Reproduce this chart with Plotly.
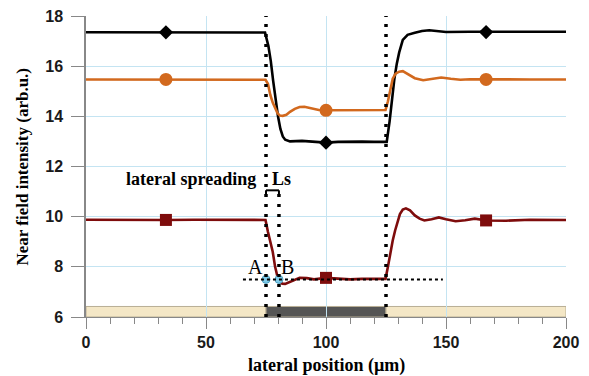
import plotly.graph_objects as go

# =========================================================
# Data
# =========================================================

# black curve (diamonds)
black_x = [0, 10, 20, 33.3, 45, 55, 65, 72, 74.6, 76, 77, 78, 79, 80, 81, 82, 83, 85,
           90, 95, 100, 105, 110, 115, 120, 125.3, 126.5, 127.5, 128.5, 129.5, 130.5,
           132, 134, 137, 140, 143, 146, 150, 160, 166.7, 180, 190, 200]
black_y = [17.35, 17.35, 17.34, 17.35, 17.35, 17.34, 17.35, 17.35, 17.34, 16.8, 16.2,
           15.4, 14.65, 14.0, 13.5, 13.2, 13.07, 13.0,
           13.02, 12.98, 12.95, 12.98, 13.0, 12.99, 12.98, 12.98, 13.8, 14.7, 15.5, 16.1,
           16.55, 17.05, 17.25, 17.33, 17.4, 17.43, 17.4, 17.36, 17.37, 17.36, 17.37,
           17.37, 17.37]

# orange curve (circles)
orange_x = [0, 10, 20, 33.3, 45, 55, 65, 72, 74.8, 75.8, 76.8, 77.8, 78.8, 79.8, 80.8,
            82, 83.5, 85, 87, 89, 91, 94, 97, 100, 105, 110, 115, 120, 124.8, 125.8,
            126.8, 127.8, 129, 130.5, 132, 134, 137, 140.5, 144, 148, 152, 156, 160,
            166.7, 175, 185, 200]
orange_y = [15.47, 15.47, 15.46, 15.47, 15.47, 15.46, 15.47, 15.47, 15.46, 15.3, 14.85,
            14.55, 14.3, 14.12, 14.03, 14.02, 14.06, 14.18, 14.3, 14.37, 14.38, 14.3,
            14.25, 14.24, 14.24, 14.25, 14.25, 14.26, 14.25, 14.6, 15.05, 15.5, 15.7,
            15.78, 15.8, 15.68, 15.52, 15.44, 15.48, 15.55, 15.5, 15.46, 15.48, 15.47,
            15.48, 15.47, 15.47]

# dark red curve (squares)
red_x = [0, 10, 20, 33.3, 45, 55, 65, 72, 74.8, 75.8, 76.8, 77.8, 78.8, 79.8, 80.8, 81.8,
         83, 85, 87, 89, 92, 95, 100, 105, 110, 115, 120, 124.8, 125.8, 126.8, 127.8,
         128.8, 129.8, 130.8, 132, 133.3, 135, 137, 139, 141, 144, 147, 150, 154, 158,
         162, 166.7, 175, 185, 200]
red_y = [9.88, 9.87, 9.86, 9.87, 9.88, 9.87, 9.88, 9.88, 9.87, 9.4, 8.95, 8.6, 8.0, 7.6,
         7.42, 7.33, 7.32, 7.4, 7.5, 7.56, 7.55, 7.5, 7.56, 7.53, 7.5, 7.52, 7.51, 7.52,
         8.0, 8.55, 9.05, 9.45, 9.8, 10.1, 10.28, 10.33, 10.25, 10.05, 9.92, 9.85, 9.9,
         9.97, 9.9, 9.82, 9.86, 9.92, 9.85, 9.84, 9.88, 9.87]

# marker positions
marker_x = [33.3, 100, 166.7]
black_marker_y = [17.35, 12.95, 17.36]
orange_marker_y = [15.47, 14.24, 15.47]
red_marker_y = [9.87, 7.56, 9.85]

# guides
edge_x = [75, 125]
spread_end_x = 80.4
ref_level = 7.5
ref_line_x = [65.4, 148.7]
bracket_y = 11.05
ab_x = [75, 80.4]
ab_labels = ["A", "B"]

# bottom strip: (start, end, colour)
strip = [(0, 75, "#F4E7C6"), (75, 125, "#555555"), (125, 200, "#F4E7C6")]
strip_top = 6.42

# =========================================================
# Figure
# =========================================================

fig = go.Figure()

for xs, ys, col in [(black_x, black_y, "#000000"),
                    (orange_x, orange_y, "#D2691E"),
                    (red_x, red_y, "#7E0C0C")]:
    fig.add_trace(go.Scatter(x=xs, y=ys, mode="lines",
                             line=dict(color=col, width=2.6), hoverinfo="skip"))

fig.add_trace(go.Scatter(x=marker_x, y=black_marker_y, mode="markers",
                         marker=dict(symbol="diamond", size=11, color="#000000")))
fig.add_trace(go.Scatter(x=marker_x, y=orange_marker_y, mode="markers",
                         marker=dict(symbol="circle", size=13, color="#D2691E")))
fig.add_trace(go.Scatter(x=marker_x, y=red_marker_y, mode="markers",
                         marker=dict(symbol="square", size=12, color="#7E0C0C")))

# strip at the bottom
for x0, x1, col in strip:
    fig.add_shape(type="rect", x0=x0, x1=x1, y0=6, y1=strip_top, layer="below",
                  fillcolor=col, line=dict(color="#B9AE95", width=1))

# vertical dotted edges
for ex in edge_x:
    fig.add_shape(type="line", x0=ex, x1=ex, y0=6, y1=18, layer="above",
                  line=dict(color="black", width=3.5, dash="3px,7px"))
fig.add_shape(type="line", x0=spread_end_x, x1=spread_end_x, y0=6, y1=bracket_y,
              layer="above", line=dict(color="black", width=3.5, dash="3px,7px"))

# horizontal reference level
fig.add_shape(type="line", x0=ref_line_x[0], x1=ref_line_x[1], y0=ref_level,
              y1=ref_level, layer="above",
              line=dict(color="black", width=2, dash="3px,3px"))

# Ls bracket
fig.add_shape(type="line", x0=edge_x[0], x1=spread_end_x, y0=bracket_y, y1=bracket_y,
              layer="above", line=dict(color="black", width=2))
for bx in [edge_x[0], spread_end_x]:
    fig.add_shape(type="line", x0=bx, x1=bx, y0=bracket_y, y1=bracket_y - 0.15,
                  layer="above", line=dict(color="black", width=2))

# points A and B
fig.add_trace(go.Scatter(x=ab_x, y=[ref_level, ref_level], mode="markers",
                         marker=dict(size=8, color="#7FCBEA",
                                     line=dict(color="#4C9FC0", width=1))))

serif = "Liberation Serif"
fig.add_annotation(x=ab_x[0], y=ref_level, text=ab_labels[0], showarrow=False,
                   xanchor="right", yanchor="bottom", xshift=-1, yshift=-1,
                   font=dict(family=serif, size=20, color="black"))
fig.add_annotation(x=ab_x[1], y=ref_level, text=ab_labels[1], showarrow=False,
                   xanchor="left", yanchor="bottom", xshift=0, yshift=-1,
                   font=dict(family=serif, size=20, color="black"))

fig.add_annotation(x=edge_x[0], y=bracket_y, text="lateral spreading", showarrow=False,
                   xanchor="right", yanchor="bottom", xshift=-8, yshift=-1,
                   font=dict(family=serif, size=18, color="black", weight="bold"))
fig.add_annotation(x=edge_x[0], y=bracket_y, text="Ls", showarrow=False,
                   xanchor="left", yanchor="bottom", xshift=4, yshift=-1,
                   font=dict(family=serif, size=18, color="black", weight="bold"))

# axis titles
fig.add_annotation(x=0, y=0.5, xref="paper", yref="paper", text="Near field intensity (arb.u.)",
                   showarrow=False, textangle=-90, xanchor="center", yanchor="middle",
                   xshift=-64, font=dict(family=serif, size=17, color="black", weight="bold"))
fig.add_annotation(x=0.5, y=0, xref="paper", yref="paper", text="lateral position (\u00b5m)",
                   showarrow=False, xanchor="center", yanchor="middle", yshift=-48,
                   font=dict(family=serif, size=18, color="black", weight="bold"))

tick_font = dict(family="Liberation Sans", size=16, color="#1a1a1a", weight="bold")

fig.update_xaxes(
    range=[0, 200], tickmode="linear", tick0=0, dtick=50,
    ticks="outside", ticklen=11, tickcolor="#888888", tickwidth=1.2,
    minor=dict(dtick=10, ticks="outside", ticklen=6, tickcolor="#888888", showgrid=False),
    showline=True, linecolor="#888888", linewidth=1.2,
    showgrid=True, gridcolor="#C4E4F2", gridwidth=1, zeroline=False,
    tickfont=tick_font, fixedrange=True, automargin=False
)
fig.update_yaxes(
    range=[6, 18], tickmode="linear", tick0=6, dtick=2,
    ticks="outside", ticklen=13, tickcolor="#888888", tickwidth=1.2,
    ticklabelstandoff=5, ticklabeloverflow="allow",
    showline=True, linecolor="#888888", linewidth=1.5,
    showgrid=True, gridcolor="#C4E4F2", gridwidth=1, zeroline=False,
    tickfont=tick_font, fixedrange=True, automargin=False
)

# the page body adds an 8px margin, so the figure is 8px smaller
fig.update_layout(
    width=581, height=368,
    margin=dict(l=78, r=23, t=8, b=59),
    plot_bgcolor="white", paper_bgcolor="white",
    showlegend=False
)

fig.write_html("out.html")
